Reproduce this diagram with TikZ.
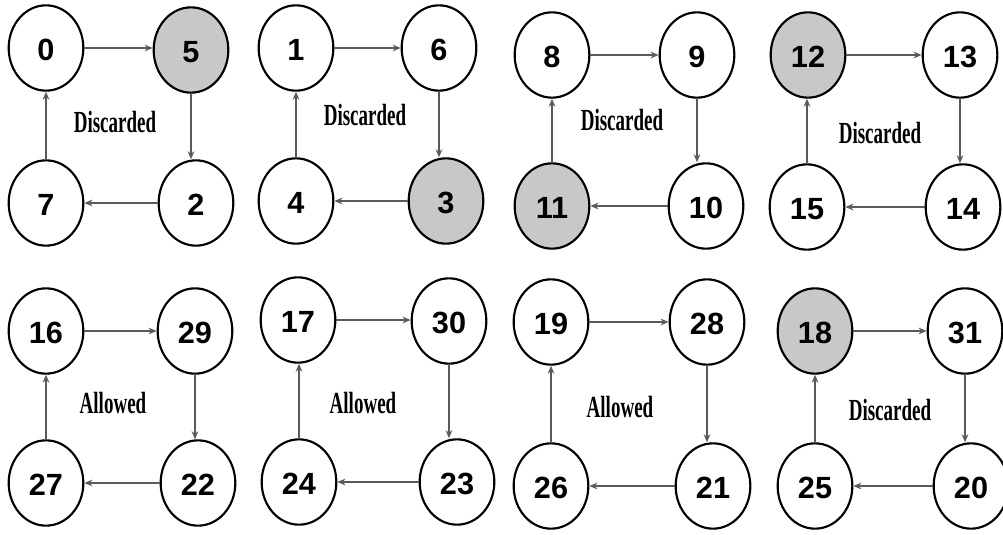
\documentclass[tikz,border=0pt]{standalone}
\usepackage{fontspec}
\setmainfont{Liberation Serif}
\newfontfamily\numfont{Liberation Sans}
\usetikzlibrary{shapes.geometric,arrows.meta}
\definecolor{shade}{RGB}{200,200,200}
\definecolor{edgegray}{RGB}{90,90,90}
\tikzset{
  state/.style={ellipse,draw=black,line width=1.6pt,fill=white,minimum width=56pt,minimum height=64pt,inner sep=0pt,
    text height=19pt,text depth=-2pt,
    font=\numfont\bfseries\fontsize{23}{23}\selectfont},
  hit/.style={state,fill=shade},
  arr/.style={draw=edgegray,line width=1.2pt,-{Stealth[length=6pt,width=5pt]}},
  lbl/.style={font=\bfseries\fontsize{23}{23}\selectfont,inner sep=0pt}
}
\newcommand{\lab}[1]{\scalebox{0.62}[1]{#1}}
\begin{document}
\begin{tikzpicture}[x=0.75pt,y=-0.75pt]
\useasboundingbox (0,0) rectangle (1003,535);
% group 1
\node[state] (n0) at (46,48) {0};
\node[hit]   (n5) at (191,50) {5};
\node[state] (n7) at (46,203) {7};
\node[state] (n2) at (196,203) {2};
\node[lbl] (l1) at (115,122) {\lab{Discarded}};
% group 2
\node[state] (n1) at (296,48) {1};
\node[state] (n6) at (439,48) {6};
\node[state] (n4) at (296,201) {4};
\node[hit]   (n3) at (446,201) {3};
\node[lbl] (l2) at (365,115) {\lab{Discarded}};
% group 3
\node[state] (n8) at (552,55) {8};
\node[state] (n9) at (697,55) {9};
\node[hit]   (n11) at (552,206) {11};
\node[state] (n10) at (706,206) {10};
\node[lbl] (l3) at (622,120) {\lab{Discarded}};
% group 4
\node[hit]   (n12) at (808,55) {12};
\node[state] (n13) at (960,55) {13};
\node[state] (n15) at (807,207) {15};
\node[state] (n14) at (963,207) {14};
\node[lbl] (l4) at (880,133) {\lab{Discarded}};
% group 5
\node[state] (n16) at (46,331) {16};
\node[state] (n29) at (195,331) {29};
\node[state] (n27) at (46,483) {27};
\node[state] (n22) at (198,483) {22};
\node[lbl] (l5) at (113,403) {\lab{Allowed}};
% group 6
\node[state] (n17) at (298,320) {17};
\node[state] (n30) at (449,321) {30};
\node[state] (n24) at (299,482) {24};
\node[state] (n23) at (457,482) {23};
\node[lbl] (l6) at (363,403) {\lab{Allowed}};
% group 7
\node[state] (n19) at (551,322) {19};
\node[state] (n28) at (707,322) {28};
\node[state] (n26) at (551,486) {26};
\node[state] (n21) at (713,486) {21};
\node[lbl] (l7) at (620,407) {\lab{Allowed}};
% group 8
\node[hit]   (n18) at (815,331) {18};
\node[state] (n31) at (965,331) {31};
\node[state] (n25) at (815,486) {25};
\node[state] (n20) at (971,486) {20};
\node[lbl] (l8) at (890,410) {\lab{Discarded}};
% connectors
\foreach \a/\b/\c/\d in {n0/n5/n2/n7, n1/n6/n3/n4, n8/n9/n10/n11, n12/n13/n14/n15,
                         n16/n29/n22/n27, n17/n30/n23/n24, n19/n28/n21/n26, n18/n31/n20/n25}{
  \draw[arr] (\a.east) -- (\a.east -| \b.west);
  \draw[arr] (\b.south) -- (\b.south |- \c.north);
  \draw[arr] (\c.west) -- (\c.west -| \d.east);
  \draw[arr] (\d.north) -- (\d.north |- \a.south);
}
\end{tikzpicture}
\end{document}
